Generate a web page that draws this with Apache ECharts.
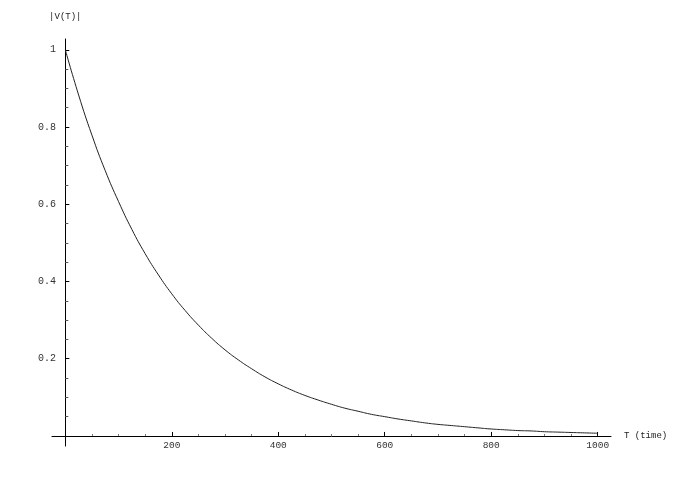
<!DOCTYPE html>
<html>
<head>
<meta charset="utf-8">
<script src="https://cdn.jsdelivr.net/npm/echarts@6/dist/echarts.min.js"></script>
<style>html,body{margin:0;padding:0;background:#fff}#c{width:692px;height:485px}</style>
</head>
<body>
<div id="c"></div>
<script>
// Data
var timeValues = [0,25,50,75,100,125,150,175,200,225,250,275,300,325,350,375,400,425,450,475,500,525,550,575,600,625,650,675,700,725,750,775,800,825,850,875,900,925,950,975,1000];
var vValues = [1,0.883,0.779,0.687,0.607,0.535,0.472,0.417,0.368,0.325,0.287,0.253,0.223,0.197,0.174,0.153,0.135,0.119,0.105,0.093,0.082,0.072,0.064,0.056,0.050,0.044,0.039,0.034,0.030,0.027,0.024,0.021,0.018,0.016,0.014,0.013,0.011,0.010,0.009,0.008,0.007];
var xMajorTicks = [200,400,600,800,1000];
var xMinorTicks = [50,100,150,250,300,350,450,500,550,650,700,750,850,900,950];
var yMajorTicks = [0.2,0.4,0.6,0.8,1];
var yMinorTicks = [0.05,0.1,0.15,0.25,0.3,0.35,0.45,0.5,0.55,0.65,0.7,0.75,0.85,0.9,0.95];
var xName = 'T (time)';
var yName = '|V(T)|';

var font = 'Liberation Mono';
var chart = echarts.init(document.getElementById('c'), null, {renderer:'canvas'});
var pts = timeValues.map(function(t,i){return [t, vValues[i]];});
var xRange = {min:-25, max:1025};
var yRange = {min:-0.026, max:1.028};
chart.setOption({
  animation:false,
  backgroundColor:'#fff',
  grid:{left:52, width:559, top:39, height:407, containLabel:false},
  xAxis:[{
    type:'value', position:'bottom', min:xRange.min, max:xRange.max,
    name:xName, nameLocation:'end', nameGap:13,
    nameTextStyle:{fontFamily:font, fontSize:9, color:'#222'},
    axisLine:{show:true, onZero:true, lineStyle:{color:'#000', width:1}},
    axisTick:{show:true, inside:true, length:4, customValues:xMajorTicks, lineStyle:{color:'#000'}},
    axisLabel:{show:true, margin:-6, customValues:xMajorTicks, fontFamily:font, fontSize:9.5, color:'#333',
      formatter:function(v){return String(v);}},
    splitLine:{show:false}
  },{
    type:'value', position:'bottom', min:xRange.min, max:xRange.max,
    axisLine:{show:false, onZero:true},
    axisTick:{show:true, inside:true, length:2, customValues:xMinorTicks, lineStyle:{color:'#777'}},
    axisLabel:{show:false},
    splitLine:{show:false}
  }],
  yAxis:[{
    type:'value', position:'left', min:yRange.min, max:yRange.max,
    name:yName, nameLocation:'end', nameGap:18,
    nameTextStyle:{fontFamily:font, fontSize:9, color:'#222'},
    axisLine:{show:true, onZero:true, lineStyle:{color:'#000', width:1}},
    axisTick:{show:true, inside:true, length:4, customValues:yMajorTicks, lineStyle:{color:'#000'}},
    axisLabel:{show:true, margin:-4, customValues:yMajorTicks, fontFamily:font, fontSize:10, color:'#333',
      formatter:function(v){return String(v);}},
    splitLine:{show:false}
  },{
    type:'value', position:'left', min:yRange.min, max:yRange.max,
    axisLine:{show:false, onZero:true},
    axisTick:{show:true, inside:true, length:3, customValues:yMinorTicks, lineStyle:{color:'#555'}},
    axisLabel:{show:false},
    splitLine:{show:false}
  }],
  series:[{
    type:'line', xAxisIndex:0, yAxisIndex:0, data:pts, smooth:true,
    showSymbol:false, symbol:'none',
    lineStyle:{color:'#222', width:1}
  }]
});
</script>
</body>
</html>
